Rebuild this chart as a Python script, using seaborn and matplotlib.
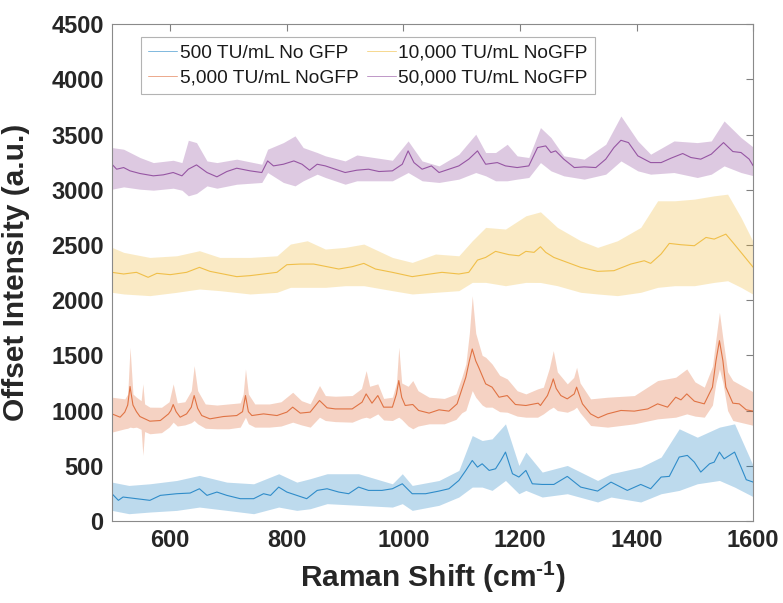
import matplotlib
matplotlib.use("Agg")
import matplotlib.pyplot as plt
import numpy as np
import pandas as pd
import seaborn as sns

LABELS = ["500 TU/mL No GFP", "5,000 TU/mL NoGFP", "10,000 TU/mL NoGFP", "50,000 TU/mL NoGFP"]
COLORS = ["#0072BD", "#D95319", "#EDB120", "#7E2F8E"]

# mean spectra (Raman shift, offset intensity)
blue_x = [500, 511, 519, 542, 565, 583, 611, 634, 650, 663, 680, 697, 720, 743, 760, 772, 786, 800, 817, 834,
          852, 869, 889, 906, 923, 940, 963, 981, 998, 1015, 1038, 1061, 1078, 1095, 1107, 1118, 1127, 1135,
          1147, 1158, 1167, 1175, 1187, 1198, 1210, 1221, 1238, 1258, 1281, 1304, 1333, 1356, 1384, 1407, 1424,
          1442, 1456, 1473, 1487, 1499, 1510, 1525, 1533, 1542, 1550, 1568, 1579, 1588, 1600]
blue_y = [247, 187, 217, 202, 187, 232, 247, 253, 292, 232, 262, 232, 202, 202, 247, 232, 307, 262, 232, 202,
          277, 292, 262, 247, 307, 277, 277, 292, 337, 247, 247, 271, 292, 367, 458, 548, 488, 518,
          458, 473, 548, 624, 428, 398, 458, 337, 331, 331, 404, 307, 271, 352, 277, 331, 292,
          398, 404, 579, 594, 533, 443, 518, 533, 624, 563, 624, 488, 374, 352]

red_x = [500, 514, 522, 527, 531, 536, 542, 548, 565, 583, 597, 601, 605, 610, 617, 628, 636, 641, 647, 654,
         668, 691, 714, 724, 729, 734, 740, 760, 783, 800, 810, 823, 840, 856, 869, 883, 912, 929, 936, 946,
         956, 966, 981, 988, 992, 997, 1003, 1016, 1026, 1044, 1061, 1078, 1092, 1107, 1113, 1118, 1124, 1129,
         1141, 1152, 1164, 1178, 1192, 1210, 1231, 1235, 1247, 1253, 1257, 1262, 1270, 1281, 1293, 1297, 1301,
         1307, 1321, 1334, 1350, 1373, 1396, 1419, 1436, 1453, 1467, 1476, 1486, 1499, 1516, 1530, 1536, 1542,
         1548, 1553, 1565, 1576, 1588, 1600]
red_y = [970, 940, 986, 1050, 1218, 1050, 990, 946, 904, 910, 970, 1000, 1055, 990, 940, 970, 1030, 1136, 1020, 955,
         925, 946, 955, 990, 1136, 990, 955, 970, 955, 986, 1031, 977, 986, 1091, 1025, 1015, 1015, 1076, 1151, 1067,
         1136, 1031, 1031, 1150, 1272, 1120, 1046, 1055, 1001, 977, 1007, 995, 1061, 1302, 1450, 1558, 1450, 1392,
         1242, 1212, 1121, 1136, 1055, 1046, 1067, 1046, 1136, 1220, 1287, 1200, 1136, 1106, 1151, 1212, 1150,
         1061, 970, 934, 970, 1001, 995, 1015, 1061, 1031, 1121, 1097, 1151, 1085, 1061, 1212, 1450, 1633,
         1450, 1212, 1067, 1061, 1007, 995]

yellow_x = [500, 520, 542, 562, 577, 600, 628, 650, 668, 691, 714, 737, 760, 783, 800, 823, 846, 869, 889, 912,
            932, 952, 981, 1015, 1038, 1066, 1095, 1112, 1127, 1141, 1158, 1181, 1198, 1210, 1224, 1235, 1244,
            1258, 1281, 1304, 1333, 1361, 1390, 1413, 1424, 1442, 1456, 1476, 1499, 1519, 1533, 1553, 1565,
            1579, 1600]
yellow_y = [2252, 2237, 2252, 2207, 2243, 2231, 2252, 2297, 2261, 2237, 2213, 2222, 2237, 2252, 2321, 2327, 2327,
            2303, 2282, 2303, 2333, 2282, 2252, 2213, 2231, 2252, 2237, 2252, 2363, 2387, 2442, 2412, 2402, 2442,
            2433, 2484, 2433, 2387, 2342, 2297, 2261, 2267, 2327, 2357, 2333, 2418, 2514, 2502, 2493, 2568, 2553,
            2598, 2523, 2433, 2297]

purple_x = [500, 508, 520, 531, 548, 571, 588, 605, 620, 631, 645, 663, 680, 697, 714, 737, 757, 767, 777, 794,
            812, 826, 839, 852, 866, 883, 900, 920, 940, 958, 981, 998, 1008, 1018, 1032, 1048, 1061, 1078, 1095,
            1112, 1127, 1141, 1161, 1175, 1195, 1215, 1230, 1244, 1253, 1261, 1275, 1293, 1310, 1330, 1347, 1361,
            1373, 1386, 1402, 1424, 1442, 1459, 1479, 1493, 1510, 1528, 1549, 1565, 1579, 1593, 1600]
purple_y = [3231, 3186, 3201, 3171, 3147, 3126, 3135, 3156, 3126, 3186, 3225, 3156, 3117, 3165, 3195, 3171, 3156,
            3261, 3216, 3231, 3261, 3231, 3177, 3231, 3216, 3186, 3156, 3177, 3186, 3165, 3171, 3231, 3352, 3246,
            3186, 3216, 3156, 3186, 3216, 3277, 3352, 3231, 3246, 3216, 3201, 3216, 3382, 3397, 3337, 3352, 3277,
            3201, 3207, 3201, 3277, 3382, 3448, 3427, 3307, 3246, 3246, 3286, 3328, 3292, 3277, 3322, 3427, 3346,
            3337, 3277, 3216]

# shaded bands (Raman shift, upper edge, lower edge)
blue_bx = [500, 529, 565, 611, 650, 697, 743, 786, 817, 840, 869, 923, 981, 998, 1015, 1061, 1095, 1118, 1135,
           1152, 1175, 1198, 1210, 1238, 1281, 1333, 1356, 1407, 1442, 1473, 1504, 1542, 1568, 1601]
blue_hi = [352, 322, 337, 367, 413, 352, 337, 428, 352, 383, 428, 428, 337, 428, 322, 367, 458, 774, 729,
           744, 880, 503, 624, 443, 503, 367, 428, 488, 579, 835, 759, 850, 880, 488]
blue_lo = [96, 66, 81, 96, 126, 96, 66, 126, 96, 111, 157, 142, 126, 157, 96, 142, 217, 307, 307,
           277, 367, 247, 277, 217, 247, 172, 217, 172, 247, 277, 337, 367, 307, 217]

red_bx = [500, 522, 527, 531, 536, 542, 550, 553, 556, 565, 585, 598, 605, 612, 625, 636, 641, 647, 660, 680,
          700, 720, 725, 729, 734, 745, 770, 790, 810, 825, 840, 856, 866, 883, 912, 928, 936, 942, 956, 966,
          981, 988, 992, 997, 1008, 1016, 1025, 1044, 1070, 1090, 1100, 1107, 1113, 1118, 1124, 1135, 1141,
          1152, 1165, 1178, 1195, 1210, 1230, 1240, 1250, 1257, 1264, 1281, 1292, 1297, 1303, 1321, 1350,
          1396, 1436, 1467, 1486, 1500, 1516, 1530, 1536, 1542, 1548, 1556, 1565, 1601]
red_hi = [1121, 1106, 1150, 1573, 1150, 1121, 1090, 1242, 1060, 1031, 1030, 1080, 1242, 1070, 1080, 1180, 1407,
          1180, 1060, 1050, 1060, 1070, 1150, 1377, 1150, 1060, 1060, 1080, 1166, 1090, 1061, 1227, 1136, 1130,
          1136, 1200, 1362, 1220, 1242, 1110, 1121, 1250, 1573, 1250, 1220, 1272, 1180, 1121, 1110, 1150, 1300,
          1422, 1700, 2040, 1700, 1500, 1483, 1422, 1320, 1287, 1180, 1151, 1196, 1212, 1380, 1543, 1350, 1242,
          1300, 1392, 1250, 1106, 1121, 1136, 1272, 1302, 1377, 1260, 1212, 1400, 1650, 1890, 1650, 1350, 1272,
          1166]
red_lo = [805, 835, 840, 850, 845, 850, 830, 594, 810, 790, 800, 850, 895, 860, 870, 890, 910, 880, 840, 835,
          835, 850, 900, 940, 880, 850, 850, 860, 895, 870, 850, 940, 910, 900, 895, 930, 940, 930, 970, 915,
          910, 930, 940, 920, 860, 835, 860, 880, 880, 920, 980, 1001, 1100, 1181, 1120, 1050, 1031, 1031, 990,
          985, 950, 940, 940, 970, 1010, 1031, 1000, 985, 1010, 1031, 980, 865, 850, 880, 925, 940, 970, 950,
          940, 1050, 1250, 1377, 1250, 1000, 910, 865]

yellow_bx = [500, 520, 565, 611, 650, 685, 737, 783, 806, 835, 866, 900, 932, 981, 1015, 1055, 1095, 1118, 1141,
             1175, 1210, 1235, 1264, 1304, 1333, 1367, 1407, 1436, 1465, 1499, 1533, 1556, 1579, 1599]
yellow_hi = [2478, 2433, 2387, 2402, 2448, 2387, 2387, 2402, 2508, 2538, 2463, 2478, 2508, 2387, 2342, 2418, 2402,
             2538, 2659, 2644, 2764, 2800, 2659, 2538, 2478, 2538, 2659, 2900, 2900, 2915, 2945, 2960, 2749, 2538]
yellow_lo = [2071, 2056, 2041, 2071, 2101, 2086, 2056, 2071, 2116, 2116, 2116, 2131, 2131, 2086, 2056, 2071, 2086,
             2161, 2161, 2131, 2161, 2160, 2131, 2071, 2056, 2041, 2071, 2116, 2131, 2131, 2161, 2176, 2116, 2056]

purple_bx = [500, 520, 548, 571, 605, 620, 631, 645, 663, 680, 714, 757, 767, 794, 814, 828, 852, 866, 900, 920,
             981, 1008, 1032, 1061, 1095, 1124, 1141, 1158, 1178, 1195, 1215, 1235, 1253, 1275, 1310, 1347, 1373,
             1402, 1424, 1464, 1504, 1528, 1550, 1579, 1601]
purple_hi = [3382, 3367, 3292, 3246, 3267, 3246, 3448, 3427, 3261, 3246, 3277, 3231, 3367, 3427, 3488, 3382, 3337,
             3307, 3261, 3315, 3267, 3442, 3261, 3216, 3322, 3503, 3337, 3337, 3412, 3307, 3292, 3563, 3473, 3307,
             3277, 3412, 3668, 3442, 3322, 3442, 3427, 3442, 3623, 3473, 3382]
purple_lo = [3005, 3026, 3005, 2996, 3014, 2996, 2945, 2966, 3035, 3014, 3050, 3066, 3156, 3066, 3035, 3081, 3141,
             3111, 3050, 3081, 3081, 3156, 3081, 3066, 3096, 3156, 3126, 3081, 3081, 3096, 3111, 3246, 3171, 3126,
             3096, 3141, 3261, 3171, 3141, 3156, 3111, 3141, 3216, 3156, 3126]

means = [(blue_x, blue_y), (red_x, red_y), (yellow_x, yellow_y), (purple_x, purple_y)]
bands = [(blue_bx, blue_hi, blue_lo), (red_bx, red_hi, red_lo),
         (yellow_bx, yellow_hi, yellow_lo), (purple_bx, purple_hi, purple_lo)]

df = pd.concat(
    [pd.DataFrame({"shift": x, "intensity": y, "sample": lab}) for (x, y), lab in zip(means, LABELS)],
    ignore_index=True,
)

sns.set_style("white")
plt.rcParams["font.family"] = ["Liberation Sans", "DejaVu Sans"]
plt.rcParams["mathtext.fontset"] = "custom"
plt.rcParams["mathtext.rm"] = "Liberation Sans:bold"
plt.rcParams["mathtext.bf"] = "Liberation Sans:bold"
plt.rcParams["mathtext.default"] = "bf"

fig = plt.figure(figsize=(7.83, 6.03), dpi=100)
ax = fig.add_axes([0.143, 0.136, 0.819, 0.824])

for (bx, hi, lo), col in zip(bands, COLORS):
    ax.fill_between(bx, lo, hi, color=col, alpha=0.26, lw=0)

sns.lineplot(data=df, x="shift", y="intensity", hue="sample", hue_order=LABELS,
             palette=COLORS, sort=False, estimator=None, lw=0.8, alpha=0.75, ax=ax)

handles, labels = ax.get_legend_handles_labels()
for h in handles:
    h.set_linewidth(0.7)
    h.set_alpha(0.5)
leg = ax.legend(handles, labels, ncol=2, loc="upper left", bbox_to_anchor=(0.045, 0.975),
                fontsize=13.8, frameon=True, fancybox=False, edgecolor="#a0a0a0",
                handlelength=1.5, handletextpad=0.12, columnspacing=0.45,
                labelspacing=0.4, borderpad=0.4, borderaxespad=0)
leg.get_frame().set_linewidth(0.8)
for t in leg.get_texts():
    t.set_color("#1a1a1a")

ax.set_xlim(500, 1600)
ax.set_ylim(0, 4500)
ax.set_xticks(np.arange(600, 1601, 200))
ax.set_yticks(np.arange(0, 4501, 500))
ax.tick_params(direction="in", length=5, width=0.8, top=True, right=True,
               labelsize=17, colors="#262626", pad=6)
ax.tick_params(axis="both", color="#808080")
for lab in ax.get_xticklabels() + ax.get_yticklabels():
    lab.set_fontweight("bold")
for sp in ax.spines.values():
    sp.set_color("#8a8a8a")
    sp.set_linewidth(0.8)

ax.set_xlabel(r"Raman Shift (cm$^{\text{-1}}$)", fontsize=21.5, fontweight="bold", color="#262626")
ax.set_ylabel("Offset Intensity (a.u.)", fontsize=21.5, fontweight="bold", color="#262626")
ax.xaxis.set_label_coords(0.5, -0.078)
ax.yaxis.set_label_coords(-0.128, 0.5)

fig.savefig("out.png", dpi=100)
